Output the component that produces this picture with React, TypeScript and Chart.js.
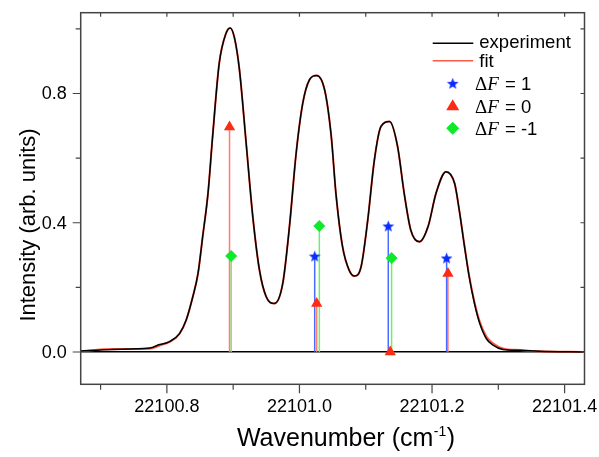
import React, { useEffect, useRef } from 'react';
import { Chart, registerables } from 'chart.js';

Chart.register(...registerables);

// ---- data ----
const wavenumber = [
  22100.668, 22100.718, 22100.774, 22100.789, 22100.804, 22100.819, 22100.829, 22100.839,
  22100.847, 22100.854, 22100.862, 22100.869, 22100.879, 22100.889, 22100.8955,
  22100.902, 22100.9095, 22100.9196, 22100.9296, 22100.9397, 22100.9498, 22100.9623, 22100.9748,
  22100.9849, 22100.995, 22101.005, 22101.015, 22101.026, 22101.038, 22101.048, 22101.055,
  22101.065, 22101.075, 22101.083, 22101.093, 22101.103, 22101.113, 22101.123, 22101.136,
  22101.148, 22101.158, 22101.168, 22101.181, 22101.194, 22101.206, 22101.221, 22101.234,
  22101.241, 22101.249, 22101.256, 22101.264, 22101.272, 22101.282, 22101.292, 22101.307,
  22101.332, 22101.362, 22101.428,
];
const experiment = [
  0.003, 0.008, 0.012, 0.023, 0.032, 0.057, 0.098, 0.17,
  0.243, 0.357, 0.49, 0.667, 0.894, 0.985, 1.003,
  0.972, 0.873, 0.646, 0.419, 0.253, 0.171, 0.15, 0.212,
  0.388, 0.615, 0.77, 0.842, 0.856, 0.811, 0.667, 0.491,
  0.326, 0.253, 0.235, 0.264, 0.408, 0.594, 0.698, 0.713,
  0.636, 0.491, 0.377, 0.341, 0.388, 0.491, 0.558, 0.522,
  0.44, 0.326, 0.233, 0.15, 0.088, 0.041, 0.021, 0.0075,
  0.005, 0.002, 0.0,
];
const fit = [
  0.002, 0.009, 0.01, 0.02, 0.031, 0.056, 0.098, 0.17,
  0.243, 0.357, 0.49, 0.667, 0.894, 0.985, 1.003,
  0.972, 0.873, 0.646, 0.419, 0.253, 0.171, 0.15, 0.212,
  0.388, 0.615, 0.77, 0.842, 0.856, 0.811, 0.667, 0.491,
  0.326, 0.253, 0.235, 0.264, 0.408, 0.594, 0.698, 0.713,
  0.636, 0.491, 0.377, 0.341, 0.388, 0.491, 0.558, 0.522,
  0.44, 0.328, 0.236, 0.155, 0.094, 0.048, 0.027, 0.011,
  0.006, 0.002, 0.0,
];

const dF1Pos = [22101.023, 22101.134, 22101.222];
const dF1Int = [0.297, 0.39, 0.291];
const dF0Pos = [22100.8945, 22101.026, 22101.137, 22101.224];
const dF0Int = [0.696, 0.15, 0.0, 0.243];
const dFm1Pos = [22100.897, 22101.03, 22101.139];
const dFm1Int = [0.297, 0.39, 0.291];

const xTicks = [22100.7, 22100.8, 22100.9, 22101.0, 22101.1, 22101.2, 22101.3, 22101.4];
const xTickLabels = ['', '22100.8', '', '22101.0', '', '22101.2', '', '22101.4'];
const yTicks = [0, 0.2, 0.4, 0.6, 0.8, 1.0];
const yTickLabels = ['0.0', '', '0.4', '', '0.8', ''];
const legendNames = ['experiment', 'fit'];
const legendDF = ['1', '0', '-1'];
const xTitle = 'Wavenumber (cm';
const xTitleSup = '-1';
const yTitle = 'Intensity (arb. units)';

const X_MIN = 22100.67;
const X_MAX = 22101.43;
const Y_MIN = -0.1;
const Y_MAX = 1.05;

const BLUE = '#0a2cff';
const RED = '#ff2a12';
const GREEN = '#0eea2a';
const BLUE_LINE = 'rgba(40,80,255,0.85)';
const RED_LINE = 'rgba(255,110,100,0.9)';
const GREEN_LINE = 'rgba(90,240,90,0.9)';
const FIT_COLOR = '#ff5a48';
const FRAME = '#444444';
const SANS = '"Liberation Sans", Arial, sans-serif';
const SERIF = '"Liberation Serif", "Times New Roman", serif';

function makeStar(color: string, size: number) {
  const c = document.createElement('canvas');
  c.width = size;
  c.height = size;
  const g = c.getContext('2d')!;
  const cx = size / 2, cy = size / 2 + 0.6;
  const R = size / 2 - 0.3, r = R * 0.42;
  g.beginPath();
  for (let i = 0; i < 10; i++) {
    const rad = i % 2 === 0 ? R : r;
    const a = -Math.PI / 2 + (i * Math.PI) / 5;
    const px = cx + rad * Math.cos(a);
    const py = cy + rad * Math.sin(a);
    if (i === 0) g.moveTo(px, py); else g.lineTo(px, py);
  }
  g.closePath();
  g.fillStyle = color;
  g.fill();
  return c;
}

function sticks(pos: number[], val: number[]) {
  const out: any[] = [];
  pos.forEach((p, i) => {
    out.push({ x: p, y: 0 });
    out.push({ x: p, y: val[i] });
    out.push({ x: p, y: null });
  });
  return out;
}

function pairs(xs: number[], ys: number[]) {
  return xs.map((x, i) => ({ x, y: ys[i] }));
}

const decorPlugin = {
  id: 'decor',
  afterDraw(chart: any) {
    const { ctx, chartArea } = chart;
    const xs = chart.scales.x;
    const ys = chart.scales.y;
    const { left, right, top, bottom } = chartArea;
    ctx.save();
    // frame
    ctx.strokeStyle = FRAME;
    ctx.lineWidth = 1.5;
    ctx.strokeRect(left, top, right - left, bottom - top);
    // ticks
    ctx.lineWidth = 1.2;
    ctx.beginPath();
    xTicks.forEach((v, i) => {
      const px = xs.getPixelForValue(v);
      const major = xTickLabels[i] !== '';
      ctx.moveTo(px, bottom);
      ctx.lineTo(px, bottom + (major ? 9 : 5.5));
      ctx.moveTo(px, top);
      ctx.lineTo(px, top + 4);
    });
    yTicks.forEach((v, i) => {
      const py = ys.getPixelForValue(v);
      const major = yTickLabels[i] !== '';
      ctx.moveTo(left, py);
      ctx.lineTo(left - (major ? 8 : 5), py);
      ctx.moveTo(right, py);
      ctx.lineTo(right - 4, py);
    });
    ctx.stroke();

    // tick labels
    ctx.fillStyle = '#000';
    ctx.font = `18px ${SANS}`;
    ctx.textBaseline = 'alphabetic';
    ctx.textAlign = 'center';
    xTicks.forEach((v, i) => {
      if (!xTickLabels[i]) return;
      ctx.fillText(xTickLabels[i], xs.getPixelForValue(v), bottom + 28);
    });
    ctx.textAlign = 'right';
    ctx.textBaseline = 'middle';
    yTicks.forEach((v, i) => {
      if (!yTickLabels[i]) return;
      ctx.fillText(yTickLabels[i], left - 14, ys.getPixelForValue(v) + 1);
    });

    // x axis title with superscript
    ctx.textBaseline = 'alphabetic';
    const bigX = `25px ${SANS}`;
    const smallX = `14px ${SANS}`;
    ctx.font = bigX;
    const w1 = ctx.measureText(xTitle).width;
    const wp = ctx.measureText(')').width;
    ctx.font = smallX;
    const w2 = ctx.measureText(xTitleSup).width;
    const total = w1 + w2 + wp + 1;
    const x0 = 346 - total / 2;
    const by = 446;
    ctx.font = bigX;
    ctx.textAlign = 'left';
    ctx.fillText(xTitle, x0, by);
    ctx.font = smallX;
    ctx.fillText(xTitleSup, x0 + w1 + 0.5, by - 10);
    ctx.font = bigX;
    ctx.fillText(')', x0 + w1 + w2 + 1, by);

    // y axis title
    ctx.save();
    ctx.translate(35, 225);
    ctx.rotate(-Math.PI / 2);
    ctx.textAlign = 'center';
    ctx.font = `22px ${SANS}`;
    ctx.fillText(yTitle, 0, 0);
    ctx.restore();

    // legend
    const lx0 = 432.7, lx1 = 473.3;
    ctx.lineWidth = 1.5;
    ctx.strokeStyle = '#000';
    ctx.beginPath();
    ctx.moveTo(lx0, 43.3);
    ctx.lineTo(lx1, 43.3);
    ctx.stroke();
    ctx.strokeStyle = FIT_COLOR;
    ctx.beginPath();
    ctx.moveTo(lx0, 60.7);
    ctx.lineTo(lx1, 60.7);
    ctx.stroke();
    ctx.font = `18.5px ${SANS}`;
    ctx.textAlign = 'left';
    ctx.fillText(legendNames[0], 479.3, 47.5);
    ctx.fillText(legendNames[1], 479.3, 66.7);

    const mx = 452.7;
    const rows = [83.3, 105.7, 128.3];
    const bases = [90, 112.7, 135];
    const star = makeStar(BLUE, 13);
    ctx.drawImage(star, mx - 6.5, rows[0] - 6.5);
    ctx.fillStyle = RED;
    ctx.beginPath();
    ctx.moveTo(mx, rows[1] - 6.5);
    ctx.lineTo(mx + 6.5, rows[1] + 4.5);
    ctx.lineTo(mx - 6.5, rows[1] + 4.5);
    ctx.closePath();
    ctx.fill();
    ctx.fillStyle = GREEN;
    ctx.beginPath();
    ctx.moveTo(mx, rows[2] - 6.5);
    ctx.lineTo(mx + 6.5, rows[2]);
    ctx.lineTo(mx, rows[2] + 6.5);
    ctx.lineTo(mx - 6.5, rows[2]);
    ctx.closePath();
    ctx.fill();

    ctx.fillStyle = '#000';
    legendDF.forEach((d, i) => {
      let tx = 475;
      ctx.font = `19px ${SERIF}`;
      ctx.fillText('\u0394', tx, bases[i]);
      tx += ctx.measureText('\u0394').width;
      ctx.font = `italic 19px ${SERIF}`;
      ctx.fillText('F', tx, bases[i]);
      tx += ctx.measureText('F').width + 1;
      ctx.font = `18.5px ${SANS}`;
      ctx.fillText(' = ' + d, tx, bases[i]);
    });
    ctx.restore();
  },
};

export default function App() {
  const ref = useRef<HTMLCanvasElement | null>(null);

  useEffect(() => {
    if (!ref.current) return;
    const starImg = makeStar(BLUE, 13);
    const chart = new Chart(ref.current, {
      type: 'scatter',
      data: {
        datasets: [
          {
            label: 'dF1 markers',
            data: pairs(dF1Pos, dF1Int),
            pointStyle: starImg as any,
            pointRadius: 6,
            showLine: false,
          },
          {
            label: 'dF0 markers',
            data: pairs(dF0Pos, dF0Int),
            pointStyle: 'triangle',
            pointRadius: 6.5,
            backgroundColor: RED,
            borderColor: RED,
            borderWidth: 0,
            showLine: false,
          },
          {
            label: 'dF-1 markers',
            data: pairs(dFm1Pos, dFm1Int),
            pointStyle: 'rectRot',
            pointRadius: 6,
            backgroundColor: GREEN,
            borderColor: GREEN,
            borderWidth: 0,
            showLine: false,
          },
          {
            label: 'dF1 sticks',
            data: sticks(dF1Pos, dF1Int),
            showLine: true,
            spanGaps: false,
            borderColor: BLUE_LINE,
            borderWidth: 1.5,
            pointRadius: 0,
          },
          {
            label: 'dF0 sticks',
            data: sticks(dF0Pos, dF0Int),
            showLine: true,
            spanGaps: false,
            borderColor: RED_LINE,
            borderWidth: 1.5,
            pointRadius: 0,
          },
          {
            label: 'dF-1 sticks',
            data: sticks(dFm1Pos, dFm1Int),
            showLine: true,
            spanGaps: false,
            borderColor: GREEN_LINE,
            borderWidth: 1.5,
            pointRadius: 0,
          },
          {
            label: 'experiment',
            data: pairs(wavenumber, experiment),
            showLine: true,
            borderColor: '#000000',
            borderWidth: 1.5,
            pointRadius: 0,
            cubicInterpolationMode: 'monotone',
          },
          {
            label: 'fit',
            data: pairs(wavenumber, fit),
            showLine: true,
            borderColor: FIT_COLOR,
            borderWidth: 2,
            pointRadius: 0,
            cubicInterpolationMode: 'monotone',
          },
        ],
      },
      options: {
        animation: false,
        responsive: false,
        devicePixelRatio: 1,
        layout: { padding: { top: 12.7, right: 14.5, left: 0, bottom: 0 } },
        plugins: {
          legend: { display: false },
          tooltip: { enabled: false },
        },
        scales: {
          x: {
            type: 'linear',
            min: X_MIN,
            max: X_MAX,
            afterFit: (s: any) => { s.height = 72.7; },
            afterBuildTicks: (s: any) => { s.ticks = xTicks.map((v) => ({ value: v })); },
            grid: { display: false, drawTicks: false },
            border: { display: false },
            ticks: { display: false },
          },
          y: {
            type: 'linear',
            min: Y_MIN,
            max: Y_MAX,
            afterFit: (s: any) => { s.width = 80.7; },
            afterBuildTicks: (s: any) => { s.ticks = yTicks.map((v) => ({ value: v })); },
            grid: {
              drawTicks: false,
              color: (c: any) => (c.tick && Math.abs(c.tick.value) < 1e-9 ? '#000' : 'rgba(0,0,0,0)'),
              lineWidth: 1.5,
            },
            border: { display: false },
            ticks: { display: false },
          },
        },
      },
      plugins: [decorPlugin],
    } as any);
    return () => chart.destroy();
  }, []);

  return (
    <div style={{ position: 'absolute', left: 0, top: 0, width: 599, height: 457, background: '#fff' }}>
      <canvas ref={ref} width={599} height={457} style={{ width: 599, height: 457, display: 'block' }} />
    </div>
  );
}
